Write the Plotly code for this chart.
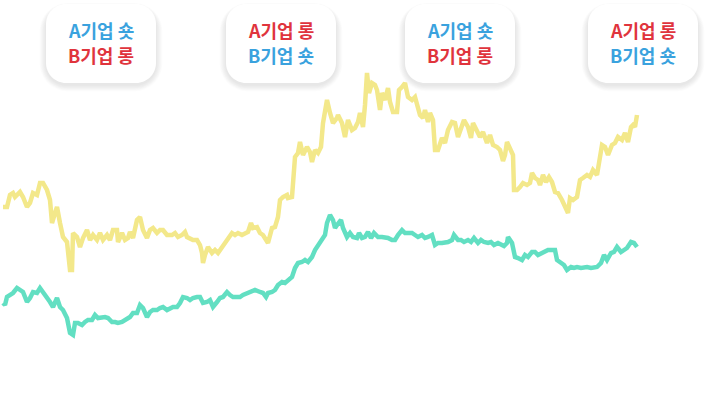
import plotly.graph_objects as go

# ---- data ----
yellow_day = [3, 7, 10, 13, 15, 18, 20, 23, 27, 30, 33, 37, 40, 43, 47, 50, 52, 55, 57, 60, 63, 67, 70, 72, 73, 77, 80, 83, 87, 90, 93, 97, 100, 103, 107, 110, 113, 117, 118, 122, 125, 128, 130, 133, 137, 140, 143, 147, 150, 153, 157, 160, 163, 167, 172, 175, 178, 182, 185, 187, 190, 193, 197, 200, 202, 203, 205, 208, 212, 215, 218, 222, 225, 228, 232, 235, 238, 242, 245, 248, 251, 253, 257, 260, 263, 267, 268, 272, 275, 278, 280, 283, 287, 288, 292, 295, 298, 300, 303, 307, 310, 312, 315, 318, 321, 323, 327, 330, 333, 337, 338, 342, 345, 348, 352, 355, 358, 360, 363, 365, 367, 369, 372, 375, 377, 380, 382, 385, 388, 390, 393, 397, 399, 402, 405, 408, 412, 415, 417, 420, 423, 425, 428, 430, 433, 435, 438, 442, 445, 448, 452, 455, 458, 461, 464, 468, 471, 473, 477, 480, 483, 487, 490, 493, 497, 500, 503, 505, 507, 510, 513, 514, 517, 520, 523, 527, 530, 532, 535, 538, 540, 543, 546, 549, 552, 555, 558, 562, 565, 568, 570, 573, 577, 580, 583, 587, 590, 593, 597, 599, 602, 605, 608, 612, 615, 618, 622, 625, 628, 631, 633, 635, 637]
yellow_val = [195, 195, 207, 209, 205, 209, 210, 205, 195, 199, 209, 207, 219, 219, 212, 202, 179, 189, 195, 179, 165, 160, 132, 132, 169, 165, 155, 164, 172, 162, 167, 162, 169, 162, 167, 162, 172, 172, 160, 169, 162, 164, 170, 164, 182, 185, 172, 164, 172, 174, 169, 172, 172, 167, 167, 169, 165, 167, 170, 165, 164, 162, 162, 157, 149, 139, 147, 155, 149, 152, 149, 155, 160, 165, 169, 167, 169, 167, 169, 170, 179, 174, 175, 169, 167, 160, 159, 174, 175, 185, 202, 205, 207, 204, 205, 245, 249, 260, 247, 255, 250, 240, 252, 249, 255, 279, 302, 289, 279, 284, 287, 279, 265, 282, 272, 274, 280, 289, 275, 297, 329, 309, 319, 317, 312, 292, 309, 302, 314, 300, 290, 290, 312, 315, 319, 305, 302, 305, 297, 287, 284, 292, 280, 289, 282, 252, 252, 264, 259, 272, 280, 279, 265, 275, 282, 275, 264, 279, 272, 265, 270, 259, 267, 257, 255, 252, 241, 247, 260, 252, 247, 212, 212, 215, 219, 217, 219, 229, 224, 222, 217, 227, 220, 225, 220, 210, 209, 202, 195, 189, 204, 202, 205, 222, 224, 227, 225, 232, 227, 239, 257, 255, 247, 257, 259, 265, 262, 269, 260, 275, 277, 275, 287]

teal_day = [3, 5, 7, 10, 13, 17, 20, 23, 27, 30, 33, 37, 40, 43, 47, 50, 53, 57, 60, 63, 67, 70, 73, 75, 78, 82, 85, 88, 92, 95, 98, 102, 105, 108, 112, 115, 118, 122, 125, 130, 133, 137, 140, 143, 147, 150, 153, 157, 160, 163, 167, 170, 173, 177, 180, 183, 187, 190, 193, 197, 200, 203, 207, 210, 213, 217, 220, 223, 227, 230, 233, 237, 240, 243, 247, 250, 255, 260, 263, 266, 268, 272, 275, 278, 282, 285, 288, 292, 295, 298, 302, 305, 308, 312, 315, 318, 322, 325, 327, 330, 333, 335, 337, 341, 343, 347, 350, 353, 357, 359, 362, 365, 368, 371, 374, 378, 382, 385, 388, 392, 395, 398, 402, 405, 408, 412, 415, 418, 422, 425, 428, 432, 435, 438, 442, 445, 448, 452, 454, 458, 461, 464, 468, 471, 474, 478, 481, 484, 488, 491, 494, 498, 501, 504, 507, 508, 512, 515, 518, 522, 525, 528, 532, 535, 538, 542, 545, 548, 552, 555, 557, 561, 564, 567, 571, 574, 577, 581, 584, 587, 591, 594, 597, 601, 604, 607, 611, 614, 617, 621, 624, 627, 631, 634, 637]
teal_val = [99, 97, 105, 107, 109, 114, 112, 110, 100, 104, 110, 109, 114, 110, 105, 100, 95, 104, 95, 92, 84, 69, 67, 79, 79, 77, 80, 82, 82, 87, 84, 85, 85, 84, 80, 80, 79, 80, 82, 85, 89, 89, 97, 94, 85, 90, 92, 92, 94, 95, 92, 94, 95, 95, 99, 105, 104, 102, 104, 105, 105, 99, 100, 102, 95, 100, 104, 105, 110, 107, 105, 105, 105, 107, 109, 110, 112, 110, 109, 105, 109, 110, 112, 117, 120, 119, 122, 125, 134, 139, 140, 142, 140, 145, 152, 157, 162, 167, 179, 187, 182, 174, 177, 182, 174, 165, 169, 165, 164, 169, 164, 165, 170, 164, 169, 165, 165, 165, 164, 162, 162, 167, 172, 169, 169, 169, 167, 165, 167, 164, 165, 167, 157, 159, 159, 159, 160, 162, 167, 162, 162, 160, 162, 160, 164, 159, 162, 160, 159, 160, 157, 159, 157, 156, 159, 165, 159, 145, 144, 142, 147, 145, 150, 150, 147, 149, 150, 152, 152, 152, 142, 139, 137, 132, 135, 134, 135, 134, 135, 135, 134, 135, 135, 139, 147, 142, 149, 150, 155, 150, 152, 154, 160, 159, 155]

card_top = ["A기업 숏", "A기업 롱", "A기업 숏", "A기업 롱"]
card_bottom = ["B기업 롱", "B기업 숏", "B기업 롱", "B기업 숏"]

# ---- styling ----
W, H = 705, 402
BLUE = "#3AA2DE"
RED = "#E0343D"
YELLOW = "#F3E88A"
TEAL = "#62DFC2"
card_left = [46, 226, 405, 588]
CARD_W, CARD_H, CARD_TOP, RADIUS = 110, 79, 4, 20


def px(x):
    return x / W


def py(y):
    return 1 - y / H


def rrect(x0, y0, x1, y1, r):
    k = 0.45
    pts = [
        f"M {px(x0 + r)},{py(y0)}",
        f"L {px(x1 - r)},{py(y0)}",
        f"C {px(x1 - r * k)},{py(y0)} {px(x1)},{py(y0 + r * k)} {px(x1)},{py(y0 + r)}",
        f"L {px(x1)},{py(y1 - r)}",
        f"C {px(x1)},{py(y1 - r * k)} {px(x1 - r * k)},{py(y1)} {px(x1 - r)},{py(y1)}",
        f"L {px(x0 + r)},{py(y1)}",
        f"C {px(x0 + r * k)},{py(y1)} {px(x0)},{py(y1 - r * k)} {px(x0)},{py(y1 - r)}",
        f"L {px(x0)},{py(y0 + r)}",
        f"C {px(x0)},{py(y0 + r * k)} {px(x0 + r * k)},{py(y0)} {px(x0 + r)},{py(y0)}",
        "Z",
    ]
    return " ".join(pts)


fig = go.Figure()
fig.add_trace(go.Scatter(x=yellow_day, y=yellow_val, mode="lines",
                         line=dict(color=YELLOW, width=4.5), hoverinfo="skip"))
fig.add_trace(go.Scatter(x=teal_day, y=teal_val, mode="lines",
                         line=dict(color=TEAL, width=4.5), hoverinfo="skip"))

shapes = []
annotations = []
for i, left in enumerate(card_left):
    x0, x1 = left, left + CARD_W
    y0, y1 = CARD_TOP, CARD_TOP + CARD_H
    # soft shadow
    for s in range(8, 0, -1):
        shapes.append(dict(type="path", xref="paper", yref="paper", layer="above",
                           path=rrect(x0 - s * 0.8, y0 - s * 0.5 + 3, x1 + s * 0.8, y1 + s * 0.8 + 2, RADIUS + s),
                           fillcolor="rgba(0,0,0,0.011)", line=dict(width=0)))
    shapes.append(dict(type="path", xref="paper", yref="paper", layer="above",
                       path=rrect(x0, y0, x1, y1, RADIUS),
                       fillcolor="white", line=dict(width=0)))
    cx = (x0 + x1) / 2
    for txt, yy in ((card_top[i], 30), (card_bottom[i], 55)):
        col = BLUE if txt.endswith("숏") else RED
        annotations.append(dict(text=txt, x=px(cx), y=py(yy), xref="paper", yref="paper",
                                showarrow=False, xanchor="center", yanchor="middle",
                                font=dict(family="Noto Sans CJK KR", size=18, color=col, weight=700)))

fig.update_layout(
    width=W, height=H,
    margin=dict(l=0, r=0, t=0, b=0),
    paper_bgcolor="white", plot_bgcolor="white",
    showlegend=False,
    xaxis=dict(range=[0, W], visible=False, fixedrange=True),
    yaxis=dict(range=[0, H], visible=False, fixedrange=True),
    shapes=shapes, annotations=annotations,
)
fig.write_html("out.html", config={"displayModeBar": False},
               post_script="document.body.style.margin='0';document.body.style.overflow='hidden';")
